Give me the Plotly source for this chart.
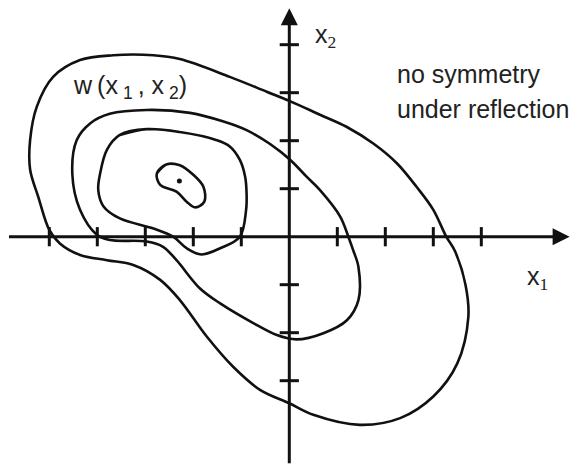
import plotly.graph_objects as go

# ---- data (axis units: one tick = 1) ----
x_ticks = [-5, -4, -3, -2, -1, 1, 2, 3, 4]
y_ticks = [4, 3, 2, 1, -1, -2, -3]

outer_x = [0.0, 0.64, 1.19, 1.75, 2.24, 2.65, 3.00, 3.27, 3.45, 3.67, 3.73, 3.50, 3.00, 2.31, 1.47, 0.50, 0.00,
           -0.61, -1.17, -1.72, -2.28, -2.69, -3.25, -3.80, -4.36, -4.78, -5.00, -5.23, -5.40,
           -5.40, -5.26, -4.92, -4.36, -3.67, -2.83, -2.28, -1.24, -0.47]
outer_y = [2.83, 2.54, 2.29, 1.94, 1.53, 1.04, 0.56, 0.00, -0.30, -1.00, -1.67, -2.64, -3.33, -3.78, -3.92, -3.71, -3.47,
           -3.19, -2.71, -2.08, -1.32, -0.90, -0.59, -0.49, -0.38, -0.14, 0.14, 0.83, 1.40,
           2.01, 2.71, 3.33, 3.68, 3.78, 3.78, 3.70, 3.33, 3.02]

second_x = [0.01, 0.36, 0.64, 1.06, 1.23, 1.33, 1.44, 1.44, 1.20, 0.71, 0.15, -0.26, -0.75, -1.44, -1.86,
            -2.35, -2.63, -2.97, -3.74, -4.01, -4.36, -4.52, -4.43, -4.15, -3.74, -2.97, -2.07,
            -1.37, -0.89, -0.40]
second_y = [1.61, 1.25, 0.97, 0.42, 0.00, -0.28, -0.63, -1.32, -1.74, -2.01, -2.14, -2.05, -1.80, -1.39, -1.08,
            -0.49, -0.21, -0.10, -0.07, 0.04, 0.56, 1.30, 2.01, 2.36, 2.56, 2.64, 2.58,
            2.40, 2.22, 1.93]

third_x = [-2.97, -2.28, -1.51, -1.24, -1.03, -0.92, -0.89, -0.90, -1.03, -1.44, -1.83, -2.14, -2.42,
           -2.83, -3.53, -3.87, -3.98, -3.94, -3.80, -3.53]
third_y = [2.24, 2.18, 2.01, 1.88, 1.60, 1.25, 0.90, 0.56, 0.00, -0.24, -0.37, -0.24, 0.00,
           0.17, 0.38, 0.63, 0.97, 1.32, 1.81, 2.12]

inner_x = [-2.55, -2.28, -2.00, -1.79, -1.77, -1.96, -2.14, -2.35, -2.69, -2.76]
inner_y = [1.51, 1.49, 1.29, 1.04, 0.73, 0.61, 0.73, 0.94, 1.08, 1.32]

peak_x = [-2.29]
peak_y = [1.16]

x_axis_range = [-5.84, 5.84]
y_axis_range = [-4.72, 4.76]

INK = "#111111"

fig = go.Figure()


def closed(xs, ys):
    # wrap around so the library spline closes smoothly
    return [xs[-1]] + xs + [xs[0], xs[1]], [ys[-1]] + ys + [ys[0], ys[1]]


for cx, cy in [(outer_x, outer_y), (second_x, second_y), (third_x, third_y), (inner_x, inner_y)]:
    px, py = closed(cx, cy)
    fig.add_trace(go.Scatter(x=px, y=py, mode="lines",
                             line=dict(color=INK, width=2.6, shape="spline", smoothing=1.0),
                             hoverinfo="skip", showlegend=False))

# peak dot
fig.add_trace(go.Scatter(x=peak_x, y=peak_y, mode="markers",
                         marker=dict(color=INK, size=5), showlegend=False, hoverinfo="skip"))

# axes lines
fig.add_trace(go.Scatter(x=[x_axis_range[0], x_axis_range[1] - 0.1, None, 0, 0],
                         y=[0, 0, None, y_axis_range[0], y_axis_range[1] - 0.1],
                         mode="lines", line=dict(color=INK, width=3), showlegend=False, hoverinfo="skip"))

# ticks
tk = 0.2
tx, ty = [], []
for t in x_ticks:
    tx += [t, t, None]
    ty += [-tk, tk, None]
for t in y_ticks:
    tx += [-tk, tk, None]
    ty += [t, t, None]
fig.add_trace(go.Scatter(x=tx, y=ty, mode="lines", line=dict(color=INK, width=3),
                         showlegend=False, hoverinfo="skip"))

# arrowheads
fig.add_trace(go.Scatter(x=[x_axis_range[1]], y=[0], mode="markers",
                         marker=dict(symbol="arrow-right", size=17, color=INK, line=dict(width=0)),
                         showlegend=False, hoverinfo="skip"))
fig.add_trace(go.Scatter(x=[0], y=[y_axis_range[1]], mode="markers",
                         marker=dict(symbol="arrow-up", size=17, color=INK, line=dict(width=0)),
                         showlegend=False, hoverinfo="skip"))

SUBF = "font-family:'Liberation Serif';"
TS = "\u2009"
w_label = f"w{TS}(x{TS}<sub>1</sub>{TS}, x{TS}<sub>2</sub>)"
anns = [
    dict(x=0.49, y=4.18, text=f"x<sub><span style=\"{SUBF}\">2</span></sub>", xanchor="left", yanchor="middle"),
    dict(x=4.91, y=-0.86, text=f"x<sub><span style=\"{SUBF}\">1</span></sub>", xanchor="left", yanchor="middle"),
    dict(x=2.20, y=3.38, text="no symmetry", xanchor="left", yanchor="middle"),
    dict(x=2.20, y=2.65, text="under reflection", xanchor="left", yanchor="middle"),
    dict(x=-4.55, y=3.12, text=w_label, xanchor="left", yanchor="middle"),
]
for a in anns:
    fig.add_annotation(**a, showarrow=False, xref="x", yref="y",
                       font=dict(family="Liberation Sans, Arial", size=25, color="#222222"))

fig.update_layout(
    width=580, height=468,
    margin=dict(l=0, r=0, t=0, b=0),
    paper_bgcolor="white", plot_bgcolor="white",
    xaxis=dict(range=[-6.027, 6.056], visible=False, fixedrange=True),
    yaxis=dict(range=[-4.819, 4.931], visible=False, fixedrange=True),
)

fig.write_html("out.html", config={"displayModeBar": False},
               post_script="document.body.style.margin='0';document.body.style.overflow='hidden';")
